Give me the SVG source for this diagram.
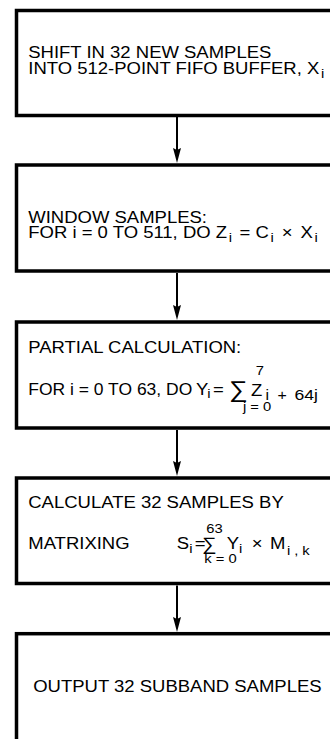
<svg xmlns="http://www.w3.org/2000/svg" width="330" height="739" viewBox="0 0 330 739">
<style>
.box{fill:#fff;stroke:#000;stroke-width:3.5}
.t{font-family:"Liberation Sans",Arial,Helvetica,sans-serif;font-size:16.3px;fill:#000}
.s{font-size:13px}
.c{stroke:#000;stroke-width:2;fill:none}
</style>
<defs>
<marker id="ah" markerUnits="userSpaceOnUse" markerWidth="16" markerHeight="10" viewBox="0 -5 16 10" refX="10" refY="0" orient="auto">
<path d="M0,-4 L15,0 L0,4 L2,0 z" fill="#000"/>
</marker>
</defs>
<rect width="330" height="739" fill="#fff"/>
<g id="connectors">
<path class="c" d="M177,117 V158" marker-end="url(#ah)"/>
<path class="c" d="M177,273 V315" marker-end="url(#ah)"/>
<path class="c" d="M177,430 V471" marker-end="url(#ah)"/>
<path class="c" d="M177,585.5 V627" marker-end="url(#ah)"/>
</g>
<g id="n1">
<rect class="box" x="16.5" y="10.5" width="330" height="105"/>
<g transform="scale(1.135 1)">
<text class="t" x="24.9" y="58.3">SHIFT IN 32 NEW SAMPLES</text>
<text class="t" x="24.9" y="74.5">INTO 512-POINT FIFO BUFFER, X<tspan class="s" dx="1.5" dy="4">i</tspan></text>
</g>
</g>
<g id="n2">
<rect class="box" x="16.5" y="165" width="330" height="106"/>
<g transform="scale(1.135 1)">
<text class="t" x="24.9" y="223.3">WINDOW SAMPLES:</text>
<text class="t" x="24.9" y="238.3">FOR i = 0 TO 511, DO Z<tspan class="s" dx="1.5" dy="4">i</tspan><tspan dx="2" dy="-4"> = C</tspan><tspan class="s" dx="1.5" dy="4">i</tspan><tspan dx="2.5" dy="-4"> × </tspan><tspan dx="2.5">X</tspan><tspan class="s" dx="1.5" dy="4">i</tspan></text>
</g>
</g>
<g id="n3">
<rect class="box" x="16.5" y="322" width="330" height="106"/>
<g transform="scale(1.135 1)">
<text class="t" x="24.9" y="353.3">PARTIAL CALCULATION:</text>
<text class="t" x="24.9" y="395" textLength="144.5" lengthAdjust="spacingAndGlyphs">FOR i = 0 TO 63, DO</text>
<text class="t" x="172.7" y="395">Y</text>
<text class="t s" x="182.6" y="398.5">i</text>
<text class="t" x="187.7" y="395">=</text>
<text class="t" x="201.8" y="397" style="font-size:23px">∑</text>
<text class="t s" x="225.3" y="375">7</text>
<text class="t s" x="214.1" y="411">j = 0</text>
<text class="t" x="221.1" y="396">Z</text>
<text class="t" x="234" y="400" style="font-size:14px">i</text>
<text class="t" x="244.5" y="400" style="font-size:14px">+</text>
<text class="t" x="259.5" y="400" style="font-size:15.5px">64j</text>
</g>
</g>
<g id="n4">
<rect class="box" x="16.5" y="478" width="330" height="105.5"/>
<g transform="scale(1.135 1)">
<text class="t" x="24.9" y="508.3">CALCULATE 32 SAMPLES BY</text>
<text class="t" x="24.9" y="549.3">MATRIXING</text>
<text class="t" x="155.7" y="549.3">S</text>
<text class="t s" x="166.7" y="553">i</text>
<text class="t" x="171.6" y="549.3">=</text>
<text class="t" x="177.7" y="550" style="font-size:18px">∑</text>
<text class="t s" x="181.8" y="533">63</text>
<text class="t s" x="180" y="563">k = 0</text>
<text class="t" x="199.7" y="549.3">Y</text>
<text class="t s" x="210.6" y="553">i</text>
<text class="t" x="221.8" y="549.3">×</text>
<text class="t" x="237.9" y="549.3">M</text>
<text class="t s" x="252.8" y="555" textLength="20" lengthAdjust="spacing">i,k</text>
</g>
</g>
<g id="n5">
<rect class="box" x="16.5" y="633.7" width="330" height="130"/>
<g transform="scale(1.135 1)">
<text class="t" x="29.3" y="691.7">OUTPUT 32 SUBBAND SAMPLES</text>
</g>
</g>
</svg>
